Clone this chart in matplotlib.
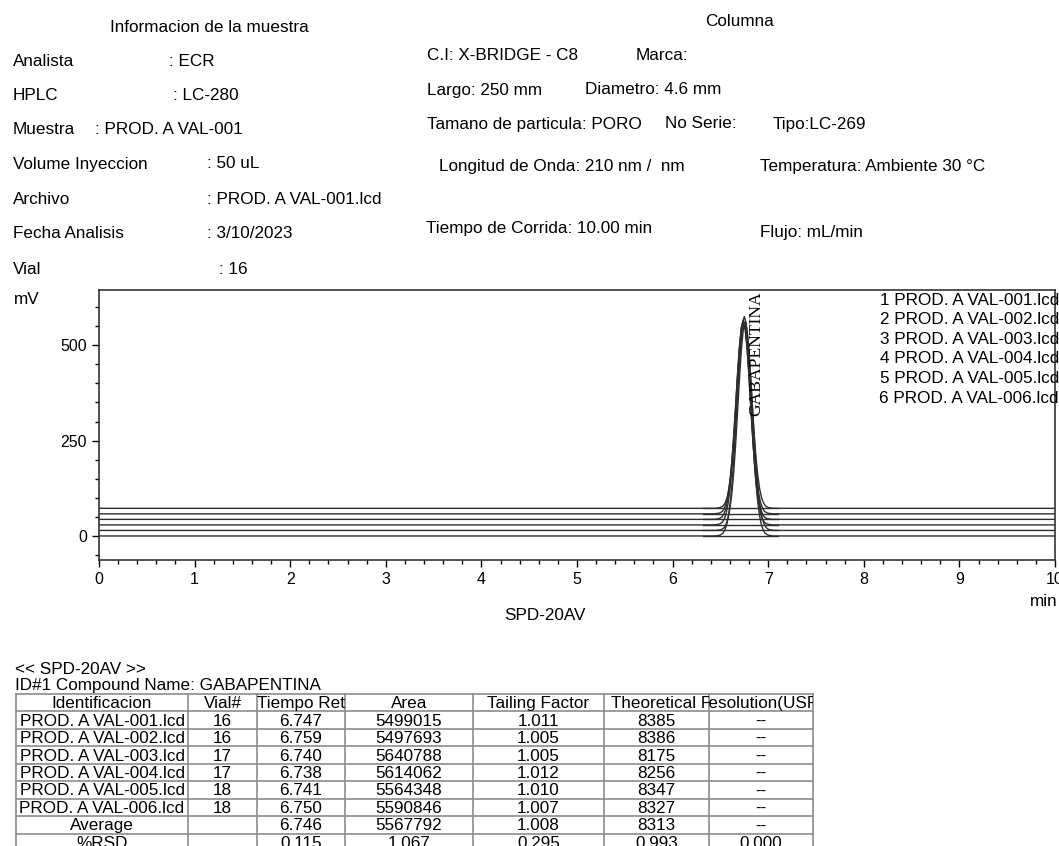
import numpy as np
import matplotlib
matplotlib.use("Agg")
from matplotlib import pyplot as plt
from matplotlib.ticker import MultipleLocator
from matplotlib.transforms import Bbox, TransformedBbox

plt.rcParams['font.family'] = ['Liberation Sans', 'DejaVu Sans']

#
# Data
#
files = ["PROD. A VAL-001.lcd", "PROD. A VAL-002.lcd", "PROD. A VAL-003.lcd",
         "PROD. A VAL-004.lcd", "PROD. A VAL-005.lcd", "PROD. A VAL-006.lcd"]
vials = [16, 16, 17, 17, 18, 18]
ret_times = [6.747, 6.759, 6.740, 6.738, 6.741, 6.750]
areas = [5499015, 5497693, 5640788, 5614062, 5564348, 5590846]
tailing = [1.011, 1.005, 1.005, 1.012, 1.010, 1.007]
plates = [8385, 8386, 8175, 8256, 8347, 8327]
resolution = ["--"] * 6
avg_row = ["Average", "", "6.746", "5567792", "1.008", "8313", "--"]
rsd_row = ["%RSD", "", "0.115", "1.067", "0.295", "0.993", "0.000"]
table_header = ["Identificacion", "Vial#", "Tiempo Ret", "Area",
                "Tailing Factor", "Theoretical Plate", "Resolution(USP)"]

# chromatogram (mV)
baseline_offsets = [0, 14.5, 29, 43.5, 58, 72.5]
peak_heights = [556, 545, 533, 520, 508, 503]
# shared peak profile: time from apex (min) vs fraction of height
profile_t = [-0.44, -0.30, -0.25, -0.22, -0.20, -0.18, -0.16, -0.14, -0.12,
             -0.10, -0.08, -0.06, -0.04, -0.02, 0.0, 0.02, 0.04, 0.06, 0.08,
             0.10, 0.12, 0.14, 0.16, 0.18, 0.20, 0.22, 0.25, 0.30, 0.44]
profile_h = [0.0, 0.0003, 0.004, 0.013, 0.029, 0.056, 0.103, 0.175, 0.278,
             0.411, 0.566, 0.726, 0.867, 0.965, 1.0, 0.965, 0.867, 0.726,
             0.566, 0.411, 0.278, 0.175, 0.103, 0.056, 0.029, 0.013, 0.004,
             0.0003, 0.0]
peak_start, peak_end = 6.32, 7.10
run_time = 10.0
compound = "GABAPENTINA"

sample_info = [("Analista", ": ECR", 169), ("HPLC", ": LC-280", 173),
               ("Muestra", ": PROD. A VAL-001", 95),
               ("Volume Inyeccion", ": 50 uL", 207),
               ("Archivo", ": PROD. A VAL-001.lcd", 207),
               ("Fecha Analisis", ": 3/10/2023", 207), ("Vial", ": 16", 219)]
info_y = [62, 96, 130, 164, 199, 234, 269]

column_info = [("C.I: X-BRIDGE - C8", 427, 55), ("Marca:", 636, 55),
               ("Largo: 250 mm", 427, 90), ("Diametro: 4.6 mm", 585, 90),
               ("Tamano de particula: PORO", 427, 124), ("No Serie:", 665, 124),
               ("Tipo:LC-269", 773, 124),
               ("Longitud de Onda: 210 nm /  nm", 439, 167),
               ("Temperatura: Ambiente 30 \u00b0C", 760, 167),
               ("Tiempo de Corrida: 10.00 min", 426, 228),
               ("Flujo: mL/min", 760, 233)]

#
# Figure
#
W, H = 1059, 846
fig = plt.figure(figsize=(W / 100, H / 100), dpi=100)

# overlay in pixel coordinates for the report text
ov = fig.add_axes([0, 0, 1, 1])
ov.set_xlim(0, W)
ov.set_ylim(H, 0)
ov.axis('off')

fs = 12.3
ov.text(110, 27, "Informacion de la muestra", fontsize=fs, va='center')
ov.text(740, 22, "Columna", fontsize=fs, va='center', ha='center')
for (lab, val, vx), y in zip(sample_info, info_y):
    ov.text(13, y, lab, fontsize=fs, va='center')
    ov.text(vx, y, val, fontsize=fs, va='center')
for txt, x, y in column_info:
    ov.text(x, y, txt, fontsize=fs, va='center')

# chromatogram axes
ax = fig.add_axes([99 / W, 1 - 560 / H, (1055 - 99) / W, (560 - 290) / H])
for off, h, rt in zip(baseline_offsets, peak_heights, ret_times):
    t = np.concatenate([[0.0], rt + np.array(profile_t), [run_time]])
    y = off + h * np.concatenate([[0.0], profile_h, [0.0]])
    ax.plot(t, y, color='#2e2e2e', lw=1.0)
    ax.plot([peak_start, peak_end], [off, off], color='#2e2e2e', lw=1.0)

ax.set_xlim(0, run_time)
ax.set_ylim(-63, 645)
ax.xaxis.set_major_locator(MultipleLocator(1))
ax.xaxis.set_minor_locator(MultipleLocator(0.2))
ax.set_yticks([0, 250, 500])
ax.set_yticks(np.arange(-50, 601, 50), minor=True)
ax.tick_params(which='major', direction='out', length=5, width=1, labelsize=11.5)
ax.tick_params(which='minor', direction='out', length=3, width=1)
for s in ax.spines.values():
    s.set_linewidth(1.2)
    s.set_color('#333333')
ax.get_xticklabels()[-1].set_ha('right')

for i, f in enumerate(files):
    ax.text(1.004, 0.962 - i * 0.0725, f"{i + 1} {f}", transform=ax.transAxes,
            ha='right', va='center', fontsize=fs)
ax.text(np.mean(ret_times) + 0.13, 641, compound, rotation=90, ha='center',
        va='top', fontsize=12.6, family='Liberation Serif')

ov.text(14, 300, "mV", fontsize=fs, va='center')
ov.text(1058, 602, "min", fontsize=fs, va='center', ha='right')
ov.text(545, 615, "SPD-20AV", fontsize=fs, va='center', ha='center')

#
# Results table
#
ov.text(15, 669, "<< SPD-20AV >>", fontsize=fs, va='center')
ov.text(15, 685.5, f"ID#1 Compound Name: {compound}", fontsize=fs, va='center')

col_edges = [16, 188, 257, 345, 473, 604, 709, 813]
top, row_h = 694, 17.45
rows = [table_header]
for i in range(len(files)):
    rows.append([files[i], str(vials[i]), f"{ret_times[i]:.3f}", str(areas[i]),
                 f"{tailing[i]:.3f}", str(plates[i]), resolution[i]])
rows.append(avg_row)
rows.append(rsd_row)

for r in range(len(rows) + 1):
    ov.plot([col_edges[0], col_edges[-1]], [top + r * row_h] * 2,
            color='#8c8c8c', lw=1.2)
for x in col_edges:
    ov.plot([x, x], [top, top + len(rows) * row_h], color='#8c8c8c', lw=1.2)

for r, row in enumerate(rows):
    yc = top + (r + 0.5) * row_h
    for c, val in enumerate(row):
        x0, x1 = col_edges[c], col_edges[c + 1]
        if r == 0 and c == 5:
            t = ov.text(x0 + 7, yc + 1, val, fontsize=fs, ha='left', va='center')
        else:
            t = ov.text((x0 + x1) / 2, yc + 1, val, fontsize=fs, ha='center',
                        va='center')
        t.set_clip_box(TransformedBbox(Bbox([[x0, top + r * row_h],
                                             [x1, top + (r + 1) * row_h]]),
                                       ov.transData))
        t.set_clip_on(True)

fig.savefig("out.png", dpi=100)
